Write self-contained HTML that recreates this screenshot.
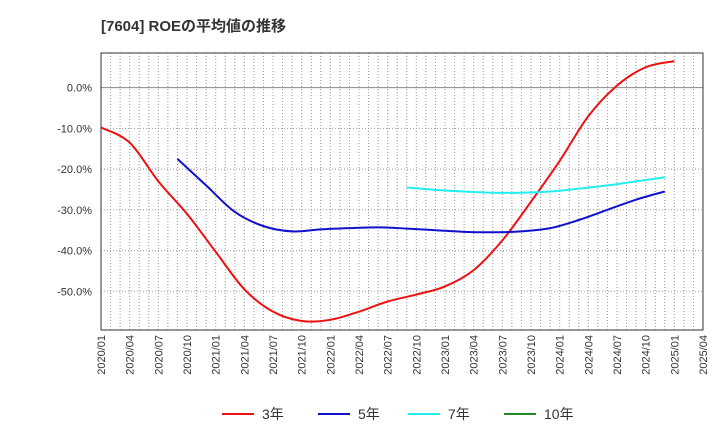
<!DOCTYPE html>
<html><head><meta charset="utf-8"><style>
body{margin:0;background:#fff;font-family:"Liberation Sans","Noto Sans CJK JP",sans-serif;}
</style></head><body>
<svg id="c" width="720" height="440" xmlns="http://www.w3.org/2000/svg">
<text x="101" y="31" font-size="15" font-weight="bold" fill="#333" font-family="Liberation Sans, Noto Sans CJK JP, sans-serif">[7604]  ROEの平均値の推移</text>
<g id="grid"></g><g id="axes"></g><g id="series"></g><g id="legend"></g>
</svg>
<script>
const categories=["2020/01","2020/04","2020/07","2020/10","2021/01","2021/04","2021/07","2021/10","2022/01","2022/04","2022/07","2022/10","2023/01","2023/04","2023/07","2023/10","2024/01","2024/04","2024/07","2024/10","2025/01","2025/04"];
const yTicks=[0,-10,-20,-30,-40,-50];
const s3Start=0;
const s3=[-9.8,-13.5,-23,-31,-40.3,-49.5,-55,-57.3,-57,-55,-52.5,-50.8,-48.8,-44.8,-37.5,-28,-18,-7,0.5,5,6.5];
const s5Start=8;
const s5=[-17.5,-24,-30.5,-34,-35.3,-34.8,-34.5,-34.3,-34.6,-35,-35.4,-35.5,-35.3,-34.5,-32.5,-30,-27.5,-25.5];
const s7Start=32;
const s7=[-24.5,-25.1,-25.5,-25.8,-25.8,-25.5,-24.8,-24,-23,-22];
const s10=[];
const L=101,R=703,T=53,B=330,yMax=8.5,yMin=-59.5;
const ns="http://www.w3.org/2000/svg";
const months=(categories.length-1)*3;
const xm=m=>L+(R-L)*m/months;
const x=i=>xm(i*3);
const y=v=>T+(B-T)*(yMax-v)/(yMax-yMin);
function mk(t,a,p){const e=document.createElementNS(ns,t);for(const k in a)e.setAttribute(k,a[k]);p.appendChild(e);return e;}
const g=document.getElementById('grid'),ax=document.getElementById('axes'),se=document.getElementById('series'),lg=document.getElementById('legend');
for(let m=1;m<months;m++){const xx=xm(m);
const l=mk('line',{x1:xx,x2:xx,y1:T,y2:B,stroke:'#999','stroke-dasharray':'1,2','stroke-width':1},g);

}
yTicks.forEach(v=>{const l=mk('line',{x1:L,x2:R,y1:y(v),y2:y(v),stroke:v===0?'#888':'#999','stroke-dasharray':v===0?'':'1,2','stroke-width':1},g);


const t=mk('text',{x:L-9,y:y(v)+4,'text-anchor':'end','font-size':11,fill:'#333'},ax);t.textContent=v.toFixed(1)+'%';

});
const fr=mk('rect',{x:L,y:T,width:R-L,height:B-T,fill:'none',stroke:'#333','stroke-width':1},ax);


categories.forEach((c,i)=>{const t=mk('text',{transform:`translate(${x(i)+4},${B+5}) rotate(-90)`,'text-anchor':'end','font-size':11,fill:'#333'},ax);t.textContent=c;

});
function line(d,start,col,name){const pts=d.map((v,i)=>[xm(start+i*3),y(v)]);if(pts.length<2)return;
let p=`M${pts[0][0]},${pts[0][1]}`;for(let i=0;i<pts.length-1;i++){const p0=pts[i-1]||pts[i],p1=pts[i],p2=pts[i+1],p3=pts[i+2]||p2;
p+=` C${p1[0]+(p2[0]-p0[0])/6},${p1[1]+(p2[1]-p0[1])/6} ${p2[0]-(p3[0]-p1[0])/6},${p2[1]-(p3[1]-p1[1])/6} ${p2[0]},${p2[1]}`;}
const e=mk('path',{d:p,fill:'none',stroke:col,'stroke-width':2},se);

}
line(s3,s3Start,'#ee1111','series-3yr');line(s5,s5Start,'#1111cc','series-5yr');line(s7,s7Start,'#22eeee','series-7yr');line(s10,0,'#228822','series-10yr');
[['3年','#ee1111',222],['5年','#1111cc',318],['7年','#22eeee',408],['10年','#228822',504]].forEach(([n,c,lx])=>{
const l=mk('line',{x1:lx,x2:lx+32,y1:414,y2:414,stroke:c,'stroke-width':2},lg);


const t=mk('text',{x:lx+40,y:419,'font-size':14,fill:'#333'},lg);t.textContent=n;

});
</script>
</body></html>
